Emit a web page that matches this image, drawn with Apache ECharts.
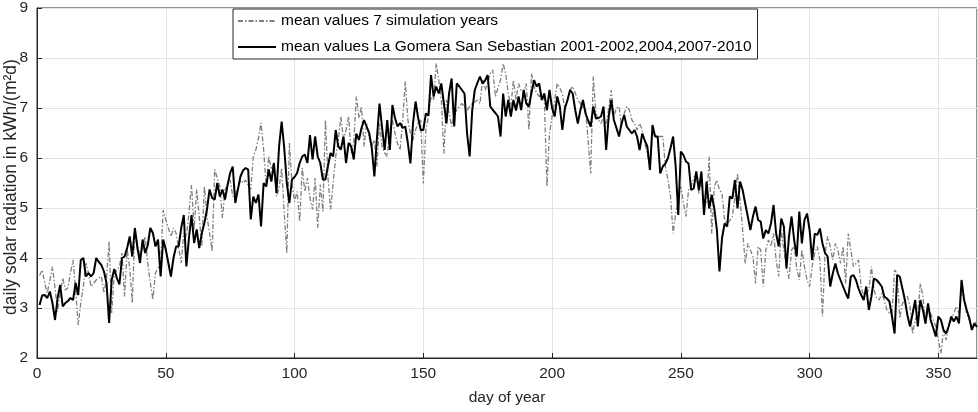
<!DOCTYPE html>
<html><head><meta charset="utf-8">
<script src="https://cdn.jsdelivr.net/npm/echarts@6/dist/echarts.min.js"></script>
<style>html,body{margin:0;padding:0;background:#fff}#c{width:978px;height:412px}</style>
</head><body><div id="c"></div>
<script>
var seriesNames = ["mean values 7 simulation years", "mean values La Gomera San Sebastian 2001-2002,2004,2007-2010"];
var xTicks = [0, 50, 100, 150, 200, 250, 300, 350];
var yTicks = [2, 3, 4, 5, 6, 7, 8, 9];
// simulated mean (grey dash-dot), day 1..365
var simulated = [
3.65,3.76,3.50,3.30,3.55,3.83,3.40,2.93,3.30,3.60,3.36,3.40,3.70,3.96,3.36,2.66,3.10,3.43,3.90,3.70,
3.43,3.50,3.56,3.60,3.63,3.30,3.60,4.33,2.90,3.70,3.75,3.83,4.10,3.23,4.17,3.80,3.10,4.57,4.30,4.03,
4.20,4.43,3.90,3.50,3.17,3.70,3.80,3.90,4.96,4.77,4.60,4.43,4.60,4.50,4.20,3.90,4.50,4.43,4.90,5.46,
4.57,5.37,4.83,4.23,5.43,4.83,4.50,4.13,5.77,5.60,5.43,4.80,5.37,5.45,5.56,5.23,5.30,5.37,5.56,5.50,
5.56,5.45,5.37,6.03,6.17,6.40,6.70,6.17,5.43,6.03,5.77,5.90,5.23,5.40,5.80,4.90,4.10,6.30,5.50,5.13,
5.33,4.73,5.80,5.33,5.60,5.20,4.97,5.60,4.60,5.47,4.93,6.76,5.60,4.97,5.50,6.03,6.36,6.83,6.36,6.56,
6.83,6.10,6.30,7.23,6.80,7.03,6.23,6.69,6.40,6.23,6.36,5.83,6.69,6.23,6.10,6.03,6.56,6.76,6.50,6.29,
6.16,6.76,7.53,6.76,6.50,6.36,6.56,6.70,6.76,5.49,6.56,6.83,7.23,7.16,7.89,7.56,7.16,6.09,7.16,6.90,
6.63,6.89,6.96,7.03,7.09,7.03,6.96,7.03,7.09,7.12,7.16,7.09,7.56,7.36,7.50,7.69,7.76,7.23,7.40,7.56,
7.89,7.69,7.29,7.03,7.56,7.16,7.49,7.35,7.29,7.49,6.56,7.69,7.43,7.30,7.23,7.29,7.16,5.43,6.49,6.83,
7.16,7.49,7.40,7.29,6.96,7.16,7.36,7.43,7.30,7.16,7.09,7.00,6.96,6.36,5.69,7.63,6.90,6.76,6.69,6.83,
6.63,7.00,7.36,6.83,7.00,7.03,6.63,6.89,7.03,6.96,6.76,6.69,6.56,6.69,6.56,6.30,6.09,5.83,6.49,6.43,
6.43,6.43,6.43,5.83,5.56,5.23,4.49,4.89,5.16,5.43,5.09,4.83,5.36,5.43,5.60,5.69,5.29,5.56,5.03,5.09,
6.03,4.49,5.43,5.56,5.36,5.29,4.76,4.69,4.75,4.83,5.23,5.69,5.16,4.56,3.89,4.29,4.16,4.03,3.49,4.23,
4.16,3.43,4.16,4.36,4.23,4.49,3.96,3.63,4.56,4.16,3.83,3.59,4.16,4.23,3.80,3.56,4.16,3.83,3.56,3.43,
3.83,4.10,4.23,3.96,2.83,4.09,4.43,4.23,3.96,4.29,4.16,3.89,4.23,3.49,4.49,4.16,3.83,3.89,3.96,3.43,
3.23,3.30,3.36,3.83,3.36,3.20,3.16,3.29,3.16,2.96,2.90,2.89,3.76,3.69,2.80,3.09,3.16,3.23,3.03,2.49,
2.76,2.89,3.49,3.23,2.69,2.96,2.89,2.76,2.63,2.36,2.09,2.56,2.36,2.63,2.76,2.90,3.03,2.89,3.43,3.16,
2.89,2.76,2.63,2.70,2.72
];
// measured mean La Gomera (black solid), day 1..365
var measured = [
3.06,3.25,3.26,3.20,3.33,3.10,2.76,3.20,3.46,3.03,3.10,3.14,3.20,3.16,3.50,3.26,3.96,4.00,3.63,3.70,
3.63,3.70,4.00,3.92,3.86,3.73,3.50,2.70,3.56,3.78,3.60,3.47,4.00,4.03,4.20,4.43,4.03,4.60,4.20,3.90,
4.37,4.10,4.25,4.60,4.50,4.23,4.37,3.63,4.37,4.17,3.90,3.63,4.00,4.23,4.23,4.60,4.86,3.83,4.40,4.86,
4.30,4.57,4.20,4.50,4.70,4.97,5.37,5.20,5.17,5.50,5.23,5.37,5.17,5.46,5.70,5.83,5.10,5.37,5.63,5.75,
5.80,5.77,4.77,5.23,5.10,5.27,4.63,5.50,5.43,5.77,5.53,5.90,5.30,6.23,6.73,6.20,5.50,5.10,5.57,5.62,
5.70,5.90,6.03,6.07,5.90,6.46,5.97,6.43,6.03,5.90,5.57,5.57,5.85,6.10,6.03,6.56,6.23,6.17,6.43,5.90,
6.30,6.23,5.97,6.49,6.36,6.60,6.76,6.63,6.50,6.20,5.63,6.40,7.09,6.60,6.16,6.76,6.16,7.06,6.80,6.63,
6.70,6.60,6.63,6.30,5.89,6.69,7.13,6.80,6.56,6.56,6.89,6.85,7.66,7.23,7.43,7.29,7.49,7.09,6.69,7.29,
7.59,6.63,7.49,7.43,7.36,7.29,6.49,6.03,6.96,7.36,7.50,7.63,7.49,7.55,7.66,7.03,6.96,6.90,6.83,6.43,
7.29,6.83,7.16,6.83,7.16,6.95,7.23,6.96,7.36,7.09,7.03,7.30,7.56,7.43,7.49,7.16,7.29,6.96,7.36,7.00,
6.83,7.23,7.03,6.56,7.00,7.16,7.36,7.29,6.96,6.69,6.96,7.16,6.89,6.75,6.63,7.03,6.79,6.80,6.83,7.03,
6.16,6.83,7.16,6.76,6.60,6.43,6.70,6.86,6.63,6.56,6.49,6.56,6.43,6.16,6.49,6.35,6.23,5.76,6.66,6.43,
6.43,5.69,5.83,5.89,6.00,6.20,6.43,5.83,4.86,6.13,6.06,5.93,5.89,5.36,5.39,5.73,5.36,5.73,4.86,5.53,
4.99,5.26,4.99,4.56,3.73,4.40,4.69,4.63,5.23,5.19,5.56,4.99,5.53,5.36,5.09,4.83,4.56,4.83,5.03,4.76,
4.73,4.39,4.56,4.49,4.69,5.06,4.49,4.23,4.79,4.63,3.79,4.43,4.83,4.36,4.03,4.93,4.29,4.76,4.89,4.56,
3.96,4.49,4.46,4.59,4.29,4.10,4.03,3.43,3.69,3.89,3.69,3.56,3.43,3.30,3.19,3.63,3.66,3.56,3.39,3.26,
3.16,3.43,2.96,3.23,3.59,3.56,3.50,3.43,3.23,3.19,3.13,2.83,2.49,3.66,3.63,3.40,3.16,2.85,2.63,2.89,
3.16,2.63,3.16,2.96,2.69,3.09,2.76,2.60,2.43,2.83,2.76,2.56,2.49,2.63,2.83,2.73,2.83,2.69,3.56,3.16,
2.96,2.80,2.56,2.69,2.62
];
var xTitle = "day of year";
var yTitle = "daily solar radiation in kWh/(m\u00b2d)";

function pairs(arr){ return arr.map(function(v,i){ return [i+1, v]; }); }
var FONT = "Liberation Sans, Arial, sans-serif";
var chart = echarts.init(document.getElementById('c'), null, {renderer:'canvas'});
chart.setOption({
  animation: false,
  backgroundColor: '#ffffff',
  grid: {left: 37, right: 1, top: 8, bottom: 54, containLabel: false, outerBoundsMode: 'none',
         show: true, borderColor: '#262626', borderWidth: 1, backgroundColor: 'transparent'},
  legend: {
    show: true, orient: 'vertical', left: 233, top: 9,
    data: seriesNames,
    itemWidth: 38, itemHeight: 10, itemGap: 10,
    padding: [4, 6, 4, 4],
    itemStyle: {opacity: 0},
    backgroundColor: '#ffffff', borderColor: '#262626', borderWidth: 1,
    textStyle: {fontFamily: FONT, fontSize: 15.5, color: '#000'}
  },
  graphic: [{
    type: 'text', x: 11, y: 187, rotation: Math.PI / 2,
    style: {text: yTitle, fontFamily: FONT, fontSize: 17.5, fill: '#262626', align: 'center', verticalAlign: 'middle'}
  }],
  xAxis: {
    type: 'value', min: 0, max: 365, interval: 50,
    name: xTitle, nameLocation: 'middle', nameGap: 32,
    nameTextStyle: {fontFamily: FONT, fontSize: 15.5, color: '#262626'},
    axisLine: {show: true, lineStyle: {color: '#262626', width: 1}},
    axisTick: {show: true, inside: true, length: 5, lineStyle: {color: '#262626'}},
    axisLabel: {fontFamily: FONT, fontSize: 15.5, color: '#262626', margin: 8, showMaxLabel: false,
      formatter: function(v){ return xTicks.indexOf(v) >= 0 ? String(v) : ''; }},
    splitLine: {show: true, lineStyle: {color: '#e3e3e3', width: 1}}
  },
  yAxis: {
    type: 'value', min: 2, max: 9, interval: 1,
    axisLine: {show: true, lineStyle: {color: '#262626', width: 1}},
    axisTick: {show: true, inside: true, length: 5, lineStyle: {color: '#262626'}},
    axisLabel: {fontFamily: FONT, fontSize: 15.5, color: '#262626', margin: 9,
      formatter: function(v){ return yTicks.indexOf(v) >= 0 ? String(v) : ''; }},
    splitLine: {show: true, lineStyle: {color: '#e3e3e3', width: 1}}
  },
  series: [
    {name: seriesNames[0], type: 'line', data: pairs(simulated), symbol: 'none', showSymbol: false,
     lineStyle: {color: '#7f7f7f', width: 1.3, type: [5, 2, 1.5, 2]}, itemStyle: {color: '#7f7f7f'}, z: 2},
    {name: seriesNames[1], type: 'line', data: pairs(measured), symbol: 'none', showSymbol: false,
     lineStyle: {color: '#000000', width: 2}, itemStyle: {color: '#000000'}, z: 3}
  ]
});
</script></body></html>
